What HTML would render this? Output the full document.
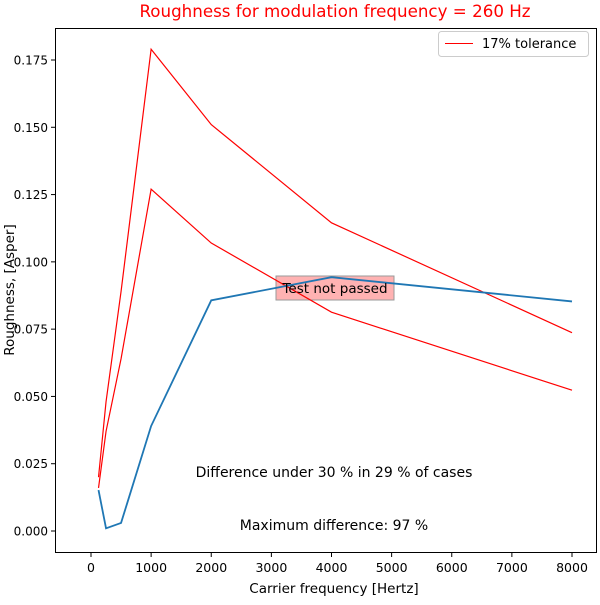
<!DOCTYPE html>
<html><head><meta charset="utf-8"><style>
body{margin:0;background:#fff;}
svg{font-family:"DejaVu Sans","Liberation Sans",sans-serif;}
</style></head><body>
<svg id="chart" width="600" height="600" xmlns="http://www.w3.org/2000/svg">
<rect x="0" y="0" width="600" height="600" fill="#fff"/>
<text x="335" y="17" text-anchor="middle" font-size="16.7" fill="red">Roughness for modulation frequency = 260 Hz</text>
<rect x="276" y="276" width="118" height="24" fill="rgb(255,170,170)" fill-opacity="0.9" stroke="#999"/>
<g id="series"></g>
<text x="335" y="293" text-anchor="middle" font-size="13.5">Test not passed</text>
<text x="334" y="477" text-anchor="middle" font-size="14">Difference under 30 % in 29 % of cases</text>
<text x="334" y="530" text-anchor="middle" font-size="14">Maximum difference: 97 %</text>
<rect x="55.5" y="28.5" width="541" height="524" fill="none" stroke="#000" stroke-width="1"/>
<g id="xticks"></g><g id="yticks"></g>
<text x="334" y="593" text-anchor="middle" font-size="13.5">Carrier frequency [Hertz]</text>
<text transform="translate(14,290) rotate(-90)" text-anchor="middle" font-size="13.5">Roughness, [Asper]</text>
<g>
<rect x="438.5" y="31.5" width="150" height="25" rx="3" fill="#fff" stroke="#ccc"/>
<line x1="445" y1="43.5" x2="473" y2="43.5" stroke="red" stroke-width="1"/>
<text x="482" y="48" font-size="13">17% tolerance</text>
</g>
</svg>
<script>
const freqs=[125,250,500,1000,2000,4000,8000];
const measured=[0.0152,0.001,0.003,0.039,0.0857,0.0943,0.0853];
const upperTol=[0.020,0.048,0.089,0.179,0.151,0.1145,0.0737];
const lowerTol=[0.016,0.037,0.064,0.127,0.107,0.0813,0.0523];
const xTicks=[0,1000,2000,3000,4000,5000,6000,7000,8000];
const yTicks=[0,0.025,0.05,0.075,0.1,0.125,0.15,0.175];
const ns="http://www.w3.org/2000/svg";
function xs(v){return 91+v*(572-91)/8000;}
function ys(v){return 531-v*(531-60)/0.175;}
function line(vals,color,w,name){
  const p=document.createElementNS(ns,'polyline');
  p.setAttribute('points',freqs.map((f,i)=>xs(f)+','+ys(vals[i])).join(' '));
  p.setAttribute('fill','none');p.setAttribute('stroke',color);p.setAttribute('stroke-width',w);
  
  
  document.getElementById('series').appendChild(p);
}
line(upperTol,'red',1.2,'upper-tolerance-line');
line(lowerTol,'red',1.2,'lower-tolerance-line');
line(measured,'#1f77b4',1.8,'measured-roughness-line');
const xg=document.getElementById('xticks');
xTicks.forEach(t=>{
  const l=document.createElementNS(ns,'line');
  l.setAttribute('x1',xs(t));l.setAttribute('x2',xs(t));l.setAttribute('y1',552.5);l.setAttribute('y2',557);l.setAttribute('stroke','#000');
  
  
  xg.appendChild(l);
  const tx=document.createElementNS(ns,'text');
  tx.setAttribute('x',xs(t));tx.setAttribute('y',572);tx.setAttribute('text-anchor','middle');tx.setAttribute('font-size','12.5');
  tx.textContent=t;
  
  
  xg.appendChild(tx);
});
const yg=document.getElementById('yticks');
yTicks.forEach(t=>{
  const l=document.createElementNS(ns,'line');
  l.setAttribute('x1',51);l.setAttribute('x2',55.5);l.setAttribute('y1',ys(t));l.setAttribute('y2',ys(t));l.setAttribute('stroke','#000');
  
  
  yg.appendChild(l);
  const tx=document.createElementNS(ns,'text');
  tx.setAttribute('x',48);tx.setAttribute('y',ys(t)+4.5);tx.setAttribute('text-anchor','end');tx.setAttribute('font-size','12');
  tx.textContent=t.toFixed(3);
  
  
  yg.appendChild(tx);
});
</script>
</body></html>
